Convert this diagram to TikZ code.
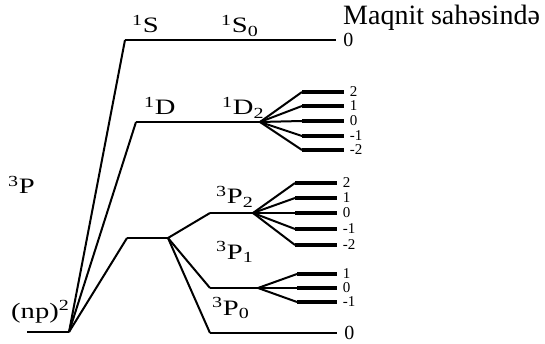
\documentclass[tikz,border=0pt]{standalone}
\usepackage{fontspec}
\usepackage{graphicx}
\setmainfont{Liberation Serif}
\tikzset{
  lvl/.style={line width=2.8pt},
  sublvl/.style={line width=3.8pt},
  conn/.style={line width=2pt},
  term/.style={anchor=base west,inner sep=0pt,font=\fontsize{22}{22}\selectfont},
  mj/.style={anchor=west,inner sep=0pt,xshift=4pt,font=\fontsize{15}{15}\selectfont},
  mjbig/.style={anchor=west,inner sep=0pt,xshift=6pt,font=\fontsize{20}{20}\selectfont}
}
\newcommand{\trm}[3]{\scalebox{1.3}[1]{\textsuperscript{#1}#2\textsubscript{#3}}}
\begin{document}
\begin{tikzpicture}[x=1pt,y=-1pt]
 \useasboundingbox (0,0) rectangle (545,344);
 % ground configuration
 \coordinate (g0) at (27,332);
 \coordinate (g) at (69,332);
 \draw[lvl] (g0) -- (g);
 \node[term] (np) at (11,318) {\scalebox{1.3}[1]{(np)\textsuperscript{2}}};
 % terms
 \coordinate (s0) at (125,40);  \coordinate (s1) at (336,40);
 \coordinate (d0) at (136,122); \coordinate (d1) at (260,122);
 \coordinate (p0) at (127,238); \coordinate (p1) at (168,238);
 \draw[conn] (g) -- (s0);
 \draw[conn] (g) -- (d0);
 \draw[conn] (g) -- (p0);
 \draw[lvl] (s0) -- (s1) node[mjbig] (s1m) {0};
 \draw[lvl] (d0) -- (d1);
 \draw[lvl] (p0) -- (p1);
 % fine structure of 3P
 \coordinate (a0) at (210,213); \coordinate (a1) at (253,213);
 \coordinate (b0) at (210,288); \coordinate (b1) at (258,288);
 \coordinate (c0) at (210,333); \coordinate (c1) at (337,333);
 \draw[conn] (p1) -- (a0);
 \draw[conn] (p1) -- (b0);
 \draw[conn] (p1) -- (c0);
 \draw[lvl] (a0) -- (a1);
 \draw[lvl] (b0) -- (b1);
 \draw[lvl] (c0) -- (c1) node[mjbig] (c1m) {0};
 % Zeeman sublevels
 \foreach \y/\m in {92/2,106/1,121/0,136/-1,150/-2} {
   \draw[conn] (d1) -- (302,\y);
   \draw[sublvl] (302,\y) -- (344,\y) node[mj] {\m};
 }
 \foreach \y/\m in {183/2,198/1,213/0,229/-1,245/-2} {
   \draw[conn] (a1) -- (295,\y);
   \draw[sublvl] (295,\y) -- (337,\y) node[mj] {\m};
 }
 \foreach \y/\m in {274/1,288/0,302/-1} {
   \draw[conn] (b1) -- (297,\y);
   \draw[sublvl] (297,\y) -- (337,\y) node[mj] {\m};
 }
 % labels
 \node[term] (tS) at (132,33) {\trm{1}{S}{}};
 \node[term] (tS0) at (221,33) {\trm{1}{S}{0}};
 \node[term] (tD) at (144,115) {\trm{1}{D}{}};
 \node[term] (tD2) at (222,115) {\trm{1}{D}{2}};
 \node[term] (tP) at (8,194) {\trm{3}{P}{}};
 \node[term] (tP2) at (216,204) {\trm{3}{P}{2}};
 \node[term] (tP1) at (216,259) {\trm{3}{P}{1}};
 \node[term] (tP0) at (212,315) {\trm{3}{P}{0}};
 \node[anchor=base west,inner sep=0pt,font=\fontsize{28}{28}\selectfont] (field) at (343,25) {Maqnit sahəsində};
\end{tikzpicture}
\end{document}
